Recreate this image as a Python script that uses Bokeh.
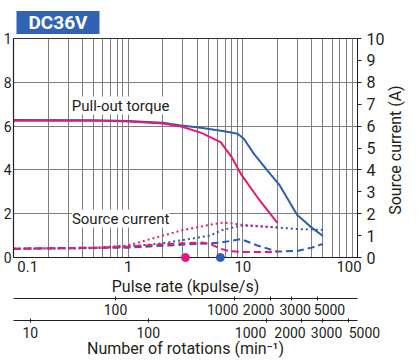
import math
from bokeh.plotting import figure
from bokeh.models import (Range1d, LogScale, LogAxis, LinearAxis, FixedTicker,
                          Label, Grid)
from bokeh.embed import file_html
from bokeh.resources import INLINE

FONT = "Roboto"
TXT = "#231f20"
BLUE = "#2d5cb4"
PINK = "#e4197b"
GRIDC = "#7f7f7f"
FS = "\u2007"  # figure space, used to nudge crowded tick labels

# ---- data (pulse rate in kpulse/s) ----
torque_blue_x = [0.1, 0.5, 1, 2, 2.9, 4.3, 7.1, 9.0, 10.2, 12.5, 16.4, 21, 29.7, 38.8, 50]
torque_blue_y = [0.628, 0.627, 0.623, 0.615, 0.603, 0.592, 0.575, 0.565, 0.542, 0.473, 0.397, 0.329, 0.195, 0.141, 0.098]

torque_pink_x = [0.1, 0.5, 1, 2, 2.9, 4.35, 6.4, 8.0, 9.6, 13.4, 20]
torque_pink_y = [0.625, 0.625, 0.621, 0.612, 0.598, 0.569, 0.527, 0.458, 0.382, 0.275, 0.158]

cur_pink_dot_x = [0.1, 0.2, 0.5, 1, 2, 3, 5.2, 6.8, 9.6, 16.5, 20]
cur_pink_dot_y = [0.4, 0.42, 0.45, 0.55, 1.0, 1.25, 1.5, 1.6, 1.5, 1.4, 1.38]

cur_blue_dot_x = [0.1, 0.5, 1, 2, 5.2, 6.4, 9.6, 16.5, 29.7, 50]
cur_blue_dot_y = [0.4, 0.42, 0.5, 0.65, 1.0, 1.23, 1.46, 1.4, 1.3, 1.26]

cur_pink_dash_x = [0.1, 0.5, 1, 2.9, 4.5, 5.3, 6.4, 7.5, 9.6, 20]
cur_pink_dash_y = [0.4, 0.45, 0.5, 0.65, 0.68, 0.6, 0.4, 0.3, 0.25, 0.25]

cur_blue_dash_x = [0.1, 1, 2.9, 5.2, 6.4, 9.6, 13.4, 20, 29.7, 40, 50]
cur_blue_dash_y = [0.4, 0.45, 0.58, 0.65, 0.68, 0.84, 0.55, 0.27, 0.3, 0.45, 0.62]

marker_pink_x = [3.16]
marker_blue_x = [6.37]

pulse_ticks = [0.1, 1, 10, 100]
pulse_labels = {0.1: FS * 2 + "0.1", 1: "1", 10: "10", 100: "100" + FS * 2}
rpm2_ticks = [100, 1000, 2000, 3000, 5000]
rpm2_labels = {100: "100", 1000: "1000" + FS * 3, 2000: "2000" + FS * 3,
               3000: FS + "3000", 5000: FS * 3 + "5000"}
rpm3_ticks = [10, 100, 1000, 2000, 3000, 5000]
rpm3_labels = {10: "10", 100: "100", 1000: "1000" + FS * 4, 2000: "2000" + FS * 3,
               3000: FS + "3000", 5000: FS * 4 + "5000"}
torque_ticks = [0, 0.2, 0.4, 0.6, 0.8, 1]
torque_labels = {0: "0", 0.2: "2", 0.4: "4", 0.6: "6", 0.8: "8", 1: "1"}
current_ticks = list(range(0, 11))
current_title = "Source current (A)"
current_title_start = 1.95   # where the rotated title begins on the current scale
torque_grid = [0.2, 0.4, 0.6, 0.8]
log_grid = [m * d for d in (0.1, 1, 10) for m in range(1, 10)] + [100]

rpm2_range = (13.9, 10800)   # rotation scale 1
rpm3_range = (7.2, 5930)     # rotation scale 2

p = figure(width=419, height=362, x_axis_type="log",
           x_range=Range1d(0.1, 100), y_range=Range1d(0, 1),
           output_backend="svg", toolbar_location=None, y_axis_location=None,
           min_border_left=10, min_border_top=38, min_border_right=62, min_border_bottom=105)
p.outline_line_color = "#333333"
p.outline_line_width = 1
p.background_fill_color = "white"

p.title.text = "DC36V"
p.title.text_font = FONT
p.title.text_font_size = "19px"
p.title.text_font_style = "bold"
p.title.text_color = "white"
p.title.background_fill_color = "#3262b3"
p.title.padding = (12, 0)
p.title.offset = 3
p.title.standoff = 9

# grids
p.xgrid.ticker = FixedTicker(ticks=log_grid)
p.xgrid.grid_line_color = GRIDC
p.xgrid.grid_line_width = 1
p.add_layout(Grid(dimension=1, ticker=FixedTicker(ticks=torque_grid),
                  grid_line_color=GRIDC, grid_line_width=1))

# left axis (only last digits visible)
la = LinearAxis(ticker=FixedTicker(ticks=torque_ticks), major_label_overrides=torque_labels)
la.major_tick_out = 0
la.major_tick_in = 0
la.minor_tick_out = 0
la.minor_tick_in = 0
la.axis_line_color = TXT
la.axis_line_width = 1.2
la.major_label_standoff = 2
la.major_label_text_font = FONT
la.major_label_text_font_size = "14px"
la.major_label_text_color = TXT
p.add_layout(la, "left")

# main x axis
xa = p.xaxis[0]
xa.ticker = FixedTicker(ticks=pulse_ticks)
xa.major_label_overrides = pulse_labels
xa.major_tick_out = 0
xa.major_tick_in = 0
xa.minor_tick_out = 0
xa.minor_tick_in = 0
xa.axis_line_color = TXT
xa.axis_line_width = 1.2
xa.major_label_standoff = 0
xa.major_label_text_font = FONT
xa.major_label_text_font_size = "15px"
xa.major_label_text_color = TXT
xa.axis_label = "Pulse rate (kpulse/s)"
xa.axis_label_standoff = -2
xa.axis_label_text_font = FONT
xa.axis_label_text_font_size = "16px"
xa.axis_label_text_font_style = "normal"
xa.axis_label_text_color = TXT

p.extra_x_ranges = {"r2": Range1d(*rpm2_range), "r3": Range1d(*rpm3_range)}
p.extra_x_scales = {"r2": LogScale(), "r3": LogScale()}

for name, ticks, labels, title, standoff in (
        ("r2", rpm2_ticks, rpm2_labels, None, 1),
        ("r3", rpm3_ticks, rpm3_labels, "Number of rotations (min⁻¹)", 2)):
    ax = LogAxis(x_range_name=name, ticker=FixedTicker(ticks=ticks),
                 major_label_overrides=labels)
    ax.major_tick_in = 2
    ax.major_tick_out = 2
    ax.minor_tick_in = 0
    ax.minor_tick_out = 0
    ax.axis_line_color = TXT
    ax.major_tick_line_color = TXT
    ax.major_label_standoff = standoff
    ax.major_label_text_font = FONT
    ax.major_label_text_font_size = "14px"
    ax.major_label_text_color = TXT
    if title:
        ax.axis_label = title
        ax.axis_label_standoff = -5
        ax.axis_label_text_font = FONT
        ax.axis_label_text_font_size = "16px"
        ax.axis_label_text_font_style = "normal"
        ax.axis_label_text_color = TXT
    p.add_layout(ax, "below")

# right axis (source current)
p.extra_y_ranges = {"cur": Range1d(0, 10)}
ra = LinearAxis(y_range_name="cur", ticker=FixedTicker(ticks=current_ticks))
ra.major_tick_out = 4
ra.major_tick_in = 0
ra.minor_tick_out = 0
ra.minor_tick_in = 0
ra.axis_line_color = TXT
ra.major_tick_line_color = TXT
ra.major_label_standoff = 5
ra.major_label_text_font = FONT
ra.major_label_text_font_size = "16px"
ra.major_label_text_color = TXT
p.add_layout(ra, "right")

# rotated title for the current axis, reading bottom-to-top
ta = LinearAxis(y_range_name="cur", ticker=FixedTicker(ticks=[current_title_start]),
                major_label_overrides={current_title_start: current_title})
ta.axis_line_color = None
ta.major_tick_line_color = None
ta.major_tick_out = 0
ta.major_tick_in = 0
ta.minor_tick_out = 0
ta.minor_tick_in = 0
ta.major_label_orientation = math.pi / 2
ta.major_label_standoff = 8
ta.major_label_text_font = FONT
ta.major_label_text_font_size = "16px"
ta.major_label_text_color = TXT
p.add_layout(ta, "right")

# torque curves
p.line(torque_blue_x, torque_blue_y, line_color=BLUE, line_width=2)
p.line(torque_pink_x, torque_pink_y, line_color=PINK, line_width=2)

# current curves
p.line(cur_blue_dot_x, cur_blue_dot_y, y_range_name="cur", line_color=BLUE, line_width=2, line_dash="2 3")
p.line(cur_pink_dot_x, cur_pink_dot_y, y_range_name="cur", line_color=PINK, line_width=2, line_dash="2 3")
p.line(cur_blue_dash_x, cur_blue_dash_y, y_range_name="cur", line_color=BLUE, line_width=2, line_dash="7 4")
p.line(cur_pink_dash_x, cur_pink_dash_y, y_range_name="cur", line_color=PINK, line_width=2, line_dash="7 4")

p.scatter(marker_pink_x, [0], size=8, color=PINK, level="overlay")
p.scatter(marker_blue_x, [0], size=8, color=BLUE, level="overlay")

p.add_layout(Label(x=0.86, y=0.694, text="Pull-out torque", text_align="center",
                   text_baseline="middle", text_font=FONT, text_font_size="15px",
                   text_color=TXT, background_fill_color="white"))
p.add_layout(Label(x=0.86, y=0.178, text="Source current", text_align="center",
                   text_baseline="middle", text_font=FONT, text_font_size="15px",
                   text_color=TXT, background_fill_color="white"))

open("out.html", "w").write(file_html(p, INLINE))
